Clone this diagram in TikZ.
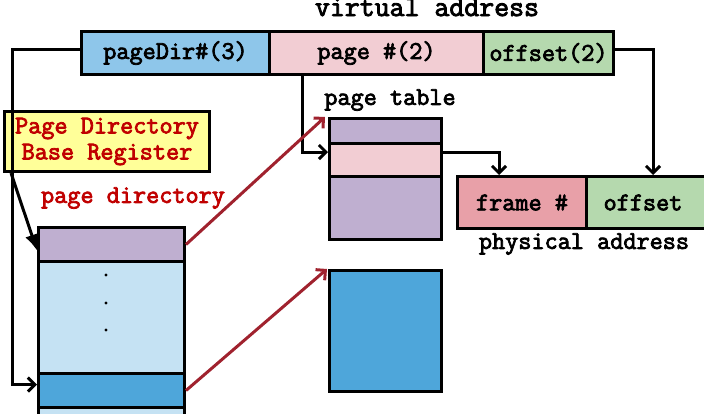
\documentclass[tikz,border=0pt]{standalone}
\usepackage{fontspec}
\newfontfamily\courfont{Latin Modern Mono}[FakeBold=3]
\usetikzlibrary{arrows.meta}
\definecolor{cFieldBlue}{HTML}{8EC6EA}
\definecolor{cPink}{HTML}{F2CDD3}
\definecolor{cGreen}{HTML}{B5D9AE}
\definecolor{cPurple}{HTML}{BFAFD0}
\definecolor{cLightBlue}{HTML}{C5E2F3}
\definecolor{cBlue}{HTML}{4EA6DA}
\definecolor{cFrame}{HTML}{E8A0A8}
\definecolor{cYellow}{HTML}{FFFF99}
\definecolor{cRedText}{HTML}{C00000}
\definecolor{cRedArrow}{HTML}{A0222E}
\begin{document}
\begin{tikzpicture}[x=1pt,y=-1pt,
  txt/.style={font=\fontsize{25.5}{26}\selectfont\courfont},
  cell/.style={draw, line width=3pt, inner sep=0pt, anchor=north west, txt},
  conn/.style={line width=3pt, -{Straight Barb[length=7pt,width=14pt,line width=3pt]}},
  redconn/.style={line width=3pt, color=cRedArrow, -{Straight Barb[length=7pt,width=14pt,line width=3pt]}}
]
\useasboundingbox (0,0) rectangle (704,413);

% virtual address
\node[txt, font=\fontsize{29}{30}\selectfont\courfont, anchor=base] (vatitle) at (427,16) {virtual address};
\node[cell, fill=cFieldBlue, minimum width=188pt, minimum height=43pt] (vdir) at (80,30) {pageDir\#(3)};
\node[cell, fill=cPink, minimum width=214pt, minimum height=43pt] (vpage) at (268,30) {page \#(2)};
\node[cell, fill=cGreen, minimum width=130pt, minimum height=43pt] (voff) at (482,30) {offset(2)};

% page directory base register
\node[cell, fill=cYellow, text=cRedText, minimum width=205pt, minimum height=60pt, align=center] (pdbr) at (3,110) {Page Directory\\Base Register};

% page directory
\node[txt, text=cRedText] (pdlabel) at (133,198) {page directory};
\node[cell, fill=cPurple, minimum width=146pt, minimum height=34pt] (pd1) at (37,226) {};
\node[cell, fill=cLightBlue, minimum width=146pt, minimum height=112pt] (pd2) at (37,260) {};
\node[cell, fill=cBlue, minimum width=146pt, minimum height=34pt] (pd3) at (37,372) {};
\node[cell, fill=cLightBlue, minimum width=146pt, minimum height=34pt] (pd4) at (37,406) {};
\fill (106,275) circle (1.6pt) (106,303) circle (1.6pt) (106,330) circle (1.6pt);

% page table
\node[txt] (ptlabel) at (390,100) {page table};
\node[cell, fill=cPurple, minimum width=112pt, minimum height=25pt] (pt1) at (328,117) {};
\node[cell, fill=cPink, minimum width=112pt, minimum height=33pt] (pt2) at (328,142) {};
\node[cell, fill=cPurple, minimum width=112pt, minimum height=63pt] (pt3) at (328,175) {};

% second page table
\node[cell, fill=cBlue, minimum width=112pt, minimum height=121pt] (box2) at (328,269) {};

% physical address
\node[cell, fill=cFrame, minimum width=129pt, minimum height=52pt] (phys1) at (456,175) {frame \#};
\node[cell, fill=cGreen, minimum width=135pt, minimum height=52pt] (phys2) at (585,175) {\hspace*{-22pt}offset};
\node[txt] (palabel) at (584,244) {physical address};

% connectors
\draw[conn] ([yshift=4pt]vdir.west) -- ++(-68,0) |- ([yshift=6pt]pd3.west);
\draw[line width=3pt, -{Latex[length=16pt,width=14pt]}] ([xshift=8pt]pdbr.south west) -- ([yshift=-6pt]pd1.west);
\draw[conn] ([xshift=34pt]vpage.south west) |- ([yshift=8pt]pt2.west);
\draw[conn] ([yshift=8pt]pt2.east) -| ([xshift=43pt]phys1.north west);
\draw[conn] ([yshift=4pt]voff.east) -| ([xshift=68pt]phys2.north west);
\draw[redconn] (pd1.east) -- ([xshift=-3pt]pt1.north west);
\draw[redconn] (pd3.east) -- ([xshift=-1pt]box2.north west);
\end{tikzpicture}
\end{document}
